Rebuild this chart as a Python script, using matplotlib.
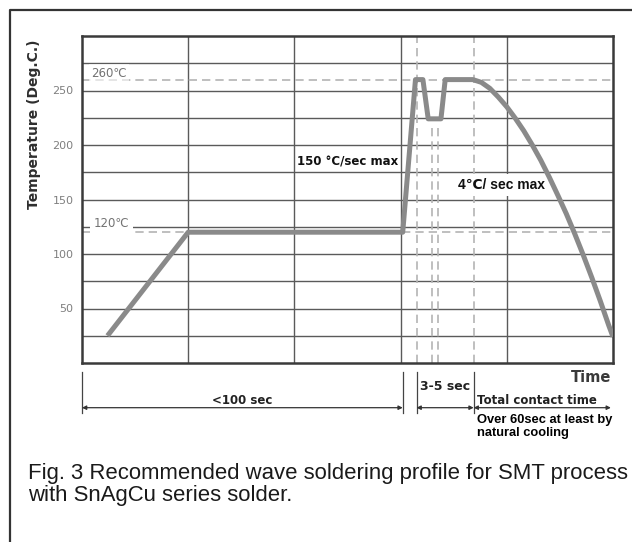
import matplotlib.pyplot as plt
from matplotlib.lines import Line2D

# profile (time in grid units, temperature in deg C)
time_pts = [12, 50, 151, 157, 160.5, 163, 169, 171, 184, 188, 192, 196, 200,
            204, 208, 212, 216, 220, 224, 228, 232, 236, 240, 244, 248, 250]
temp_pts = [25, 120, 120, 260, 260, 224, 224, 260, 260, 257.5, 252, 244, 235,
            224.5, 213, 200, 186, 170.5, 154, 137, 118.5, 99, 78.5, 57, 34.5, 24]

ref_temps = [260, 120]
ref_labels = ['260℃', '120℃']
full_marks = [157.5, 184.4]        # dashed verticals, whole height
dip_marks = [164.6, 167.5]         # dashed verticals under the dip
ytick_vals = [50, 100, 150, 200, 250]

grid = '#5a5a5a'
dash = '#b4b4b4'
fam = ['DejaVu Sans']
arial = ['Liberation Sans', 'DejaVu Sans']

fig = plt.figure(figsize=(6.32, 5.42), dpi=100)
ax = fig.add_axes([82/632, 1-363/542, 531/632, 327/542])
ax.set_xlim(0, 250)
ax.set_ylim(0, 300)

# grid
ax.set_xticks(range(50, 250, 50))
ax.set_yticks(range(25, 300, 25))
ax.set_xticklabels([])
ax.set_yticklabels([str(v) if v in ytick_vals else '' for v in range(25, 300, 25)],
                   color='#7f7f7f', fontsize=8)
ax.tick_params(length=0, pad=6)
ax.grid(True, color=grid, lw=1.0, zorder=1)
ax.set_axisbelow(True)
for s in ax.spines.values():
    s.set_color('#3a3a3a')
    s.set_linewidth(1.8)

# reference dashed lines
for t in ref_temps:
    ax.axhline(t, color=dash, lw=1.2, ls=(0, (5, 3)), zorder=2)
for x in full_marks:
    ax.axvline(x, color=dash, lw=1.2, ls=(0, (5, 3)), zorder=2)
ax.vlines(dip_marks, 0, 218, color=dash, lw=1.2, linestyles=[(0, (5, 3))], zorder=2)

ax.text(4.5, 266, ref_labels[0], fontsize=8.5, color='#727272', va='center', family=fam,
        bbox=dict(facecolor='white', edgecolor='none', alpha=0.6, pad=1.5), zorder=2.5)
ax.text(5.5, 128, ref_labels[1], fontsize=8.5, color='#727272', va='center', family=fam,
        bbox=dict(facecolor='white', edgecolor='none', pad=2.5), zorder=2.5)

# the profile
ax.plot(time_pts, temp_pts, color='#8a8a8a', lw=3.6, zorder=4, solid_capstyle='butt')

ax.text(101, 184, '150 °C/sec max', fontsize=8.5, fontweight='bold', color='#111111',
        va='center', family=fam, zorder=5)
ax.text(177, 163, '4℃/ sec max', fontsize=10, fontweight='bold', color='#111111',
        va='center', family=arial, zorder=3.5,
        bbox=dict(facecolor='white', edgecolor='none', pad=3))

# dimension lines under the axes
for x in [0, 151, 157.5, 184.4]:
    ax.plot([x, x], [-8, -46], color='#444444', lw=0.9, clip_on=False)
arrow = dict(arrowstyle='<|-|>', color='#333333', lw=0.9, mutation_scale=6,
             shrinkA=0, shrinkB=0)
for x0, x1 in [(0, 151), (157.5, 184.4), (184.4, 249)]:
    ax.annotate('', xy=(x0, -41), xytext=(x1, -41), arrowprops=arrow,
                annotation_clip=False)

ax.text(75.5, -34, '<100 sec', fontsize=8.5, fontweight='bold', color='#222222',
        ha='center', va='center', family=fam, clip_on=False)
ax.text(171, -22, '3-5 sec', fontsize=9, fontweight='bold', color='#222222',
        ha='center', va='center', family=fam, clip_on=False)
ax.text(186, -34, 'Total contact time', fontsize=8.5, fontweight='bold', color='#222222',
        ha='left', va='center', family=fam, clip_on=False)
ax.text(249, -13, 'Time', fontsize=10.5, fontweight='bold', color='#3a3a3a',
        ha='right', va='center', family=fam, clip_on=False)
ax.text(186, -52, 'Over 60sec at least by', fontsize=9.3, fontweight='bold', color='black',
        ha='left', va='center', family=arial, clip_on=False)
ax.text(186, -64, 'natural cooling', fontsize=9.3, fontweight='bold', color='black',
        ha='left', va='center', family=arial, clip_on=False)

fig.text(34/632, 1-124/542, 'Temperature (Deg.C.)', rotation=90, fontsize=10,
         fontweight='bold', color='#2e2e2e', ha='center', va='center', family=fam)

# caption
fig.text(28/632, 1-479/542, 'Fig. 3 Recommended wave soldering profile for SMT process',
         fontsize=15.9, color='#1a1a1a', ha='left', va='baseline', family=arial)
fig.text(28/632, 1-501/542, 'with SnAgCu series solder.',
         fontsize=15.9, color='#1a1a1a', ha='left', va='baseline', family=arial)

# outer frame (left and top edges are visible)
fig.add_artist(Line2D([10/632, 10/632, 1], [0, 1-10/542, 1-10/542],
                      transform=fig.transFigure, color='#333333', lw=1.6))

fig.savefig('out.png', dpi=100)
